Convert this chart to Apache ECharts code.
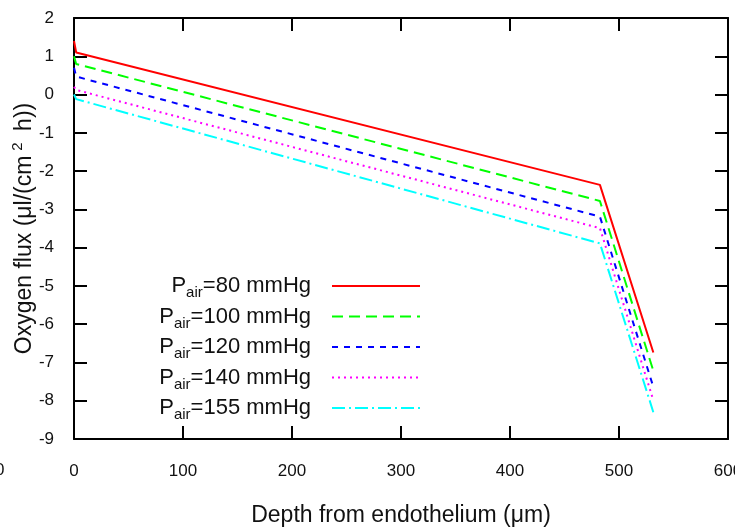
<!DOCTYPE html>
<html>
<head>
<meta charset="utf-8">
<script src="https://cdn.jsdelivr.net/npm/echarts@6/dist/echarts.min.js"></script>
<style>
  html, body { margin: 0; padding: 0; background: #fff; }
  #chart { width: 735px; height: 530px; }
</style>
</head>
<body>
<div id="chart"></div>
<script>
// depth of the sampled points (µm), shared by all curves
const depth = [0, 2, 482.5, 531.5];
// oxygen flux (µl/(cm2 h))
const flux80 = [1.40, 1.10, -2.36, -6.74];
const flux100 = [1.00, 0.80, -2.78, -7.22];
const flux120 = [0.70, 0.47, -3.19, -7.64];
const flux140 = [0.20, 0.12, -3.49, -7.99];
const flux155 = [0.00, -0.12, -3.89, -8.30];
const pressures = ['80', '100', '120', '140', '155'];
const xTicks = { min: 0, max: 600, interval: 100 };
const yTicks = { min: -9, max: 2, interval: 1 };

const FONT = 'Liberation Sans, Arial, sans-serif';
const colors = ['#ff0000', '#00ff00', '#0000ff', '#ff00ff', '#00ffff'];
const dashes = ['solid', [11, 6], [6, 6], [2, 4], [13, 4, 2, 4]];
const allFlux = [flux80, flux100, flux120, flux140, flux155];

function pairs(ys) {
  return depth.map((x, i) => [x, ys[i]]);
}

const chart = echarts.init(document.getElementById('chart'));

const axisCommon = {
  type: 'value',
  splitLine: { show: false },
  axisLine: { onZero: false, lineStyle: { color: '#000', width: 2 } },
  axisTick: { inside: true, length: 13, lineStyle: { color: '#000', width: 2 } }
}

chart.setOption({
  animation: false,
  grid: { left: 74, right: 7, top: 18, bottom: 91, containLabel: false, outerBoundsMode: 'none' },
  graphic: [
    // stray label at the left edge of the original picture
    { type: 'text', left: -5, top: 462, style: { text: '0', font: '17px ' + FONT, fill: '#111' } }
  ],
  legend: {
    orient: 'vertical',
    align: 'right',
    right: 314,
    top: 275,
    padding: 0,
    itemGap: 5,
    itemWidth: 88,
    itemHeight: 14,
    selectedMode: false,
    // hide the marker dot, keep only the line sample
    itemStyle: { color: 'transparent', borderWidth: 0, opacity: 0 },
    formatter: name => '{p|P}{s|air}{t|=' + name + ' mmHg}',
    textStyle: {
      color: '#111',
      fontFamily: FONT,
      rich: {
        p: { fontSize: 22, lineHeight: 28, fontFamily: FONT, color: '#111' },
        s: { fontSize: 15, verticalAlign: 'top', padding: [14, 0, 0, 0], fontFamily: FONT, color: '#111' },
        t: { fontSize: 22, lineHeight: 28, padding: [0, 16, 0, 0], fontFamily: FONT, color: '#111' }
      }
    }
  },
  xAxis: [
    Object.assign({}, axisCommon, xTicks, {
      position: 'bottom',
      axisLabel: { fontSize: 17, margin: 24, color: '#111', fontFamily: FONT },
      name: 'Depth from endothelium (μm)',
      nameLocation: 'middle',
      nameGap: 65,
      nameMoveOverlap: false,
      nameTextStyle: { fontSize: 23, color: '#111', fontFamily: FONT }
    }),
    Object.assign({}, axisCommon, xTicks, {
      position: 'top',
      axisLabel: { show: false }
    })
  ],
  yAxis: [
    Object.assign({}, axisCommon, yTicks, {
      position: 'left',
      axisLabel: { fontSize: 17, margin: 20, color: '#111', fontFamily: FONT },
      name: 'Oxygen flux (μl/(cm{sup|2} h))',
      nameLocation: 'middle',
      nameGap: 34,
      nameMoveOverlap: false,
      nameTextStyle: {
        fontSize: 23, lineHeight: 30, color: '#111', fontFamily: FONT,
        rich: {
          sup: { fontSize: 15, verticalAlign: 'top', color: '#111', fontFamily: FONT, padding: [0, 5, 0, 5] }
        }
      }
    }),
    Object.assign({}, axisCommon, yTicks, {
      position: 'right',
      axisLabel: { show: false }
    })
  ],
  series: pressures.map((p, i) => ({
    name: p,
    type: 'line',
    xAxisIndex: 0,
    yAxisIndex: 0,
    symbol: 'none',
    data: pairs(allFlux[i]),
    itemStyle: { color: colors[i] },
    lineStyle: { color: colors[i], width: 2, type: dashes[i] }
  }))
});
</script>
</body>
</html>
